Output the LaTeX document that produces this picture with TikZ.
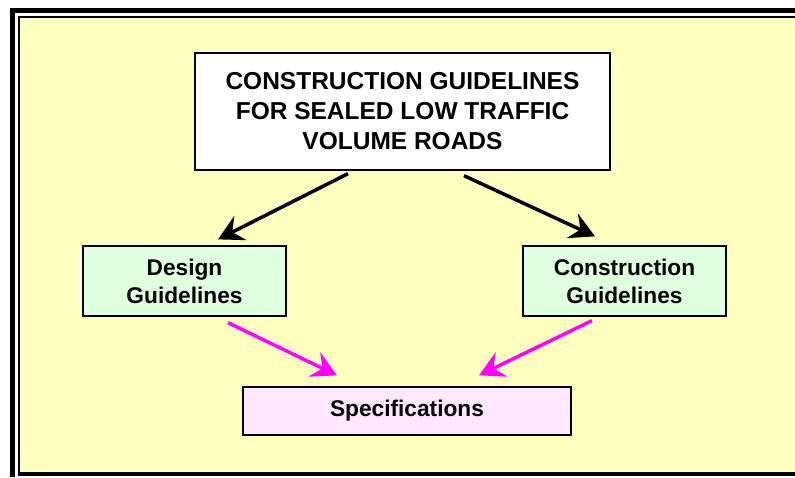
\documentclass[tikz,border=0pt]{standalone}
\usepackage{fontspec}
\setmainfont{Liberation Sans}
\usetikzlibrary{arrows.meta,calc}
\definecolor{bgyellow}{RGB}{255,255,192}
\definecolor{boxgreen}{RGB}{224,255,224}
\definecolor{boxpink}{RGB}{255,232,255}
\definecolor{magentaline}{RGB}{255,0,255}
\tikzset{
  box/.style={draw=black, line width=1.3pt, align=center, font=\bfseries, inner sep=0pt},
  blkarrow/.style={draw=black, line width=3.5pt, -{Stealth[length=25pt,width=27pt,inset=9pt]}},
  magarrow/.style={draw=magentaline, line width=3.5pt, -{Stealth[length=25pt,width=27pt,inset=9pt]}}
}
\begin{document}
\begin{tikzpicture}[x=1pt,y=-1pt]
\useasboundingbox (0,0) rectangle (795,477);
\fill[white] (0,0) rectangle (795,477);
% outer frame
\fill[black] (10,8) rectangle (15,477);
\fill[black] (10,8) rectangle (795,13);
% inner frame
\fill[black] (18,16) rectangle (795,476);
\fill[bgyellow] (20,18) rectangle (795,472);
% nodes
\node[box, fill=white, minimum width=415pt, minimum height=117pt,
      font=\fontsize{24.5}{30}\selectfont\bfseries] (top) at (402.5,111.5)
  {CONSTRUCTION GUIDELINES\\FOR SEALED LOW TRAFFIC\\VOLUME ROADS};
\node[box, fill=boxgreen, minimum width=203pt, minimum height=70pt,
      font=\fontsize{22.7}{28}\selectfont\bfseries] (design) at (184.5,281)
  {Design\\Guidelines};
\node[box, fill=boxgreen, minimum width=203pt, minimum height=70pt,
      font=\fontsize{22.7}{28}\selectfont\bfseries] (cons) at (624.5,281)
  {Construction\\Guidelines};
\node[box, fill=boxpink, minimum width=328pt, minimum height=48pt,
      font=\fontsize{22.7}{28}\selectfont\bfseries] (spec) at (407,411)
  {Specifications};
% connectors
\draw[blkarrow] ($(top.south)+(-54.5,3)$) -- ($(design.north)+(33.5,-6)$);
\draw[blkarrow] ($(top.south)+(61.5,5)$) -- ($(cons.north)+(-29.5,-9)$);
\draw[magarrow] ($(design.south)+(43.5,6)$) -- ($(spec.north)+(-70,-11)$);
\draw[magarrow] ($(cons.south)+(-32.5,4)$) -- ($(spec.north)+(72,-11)$);
\end{tikzpicture}
\end{document}
